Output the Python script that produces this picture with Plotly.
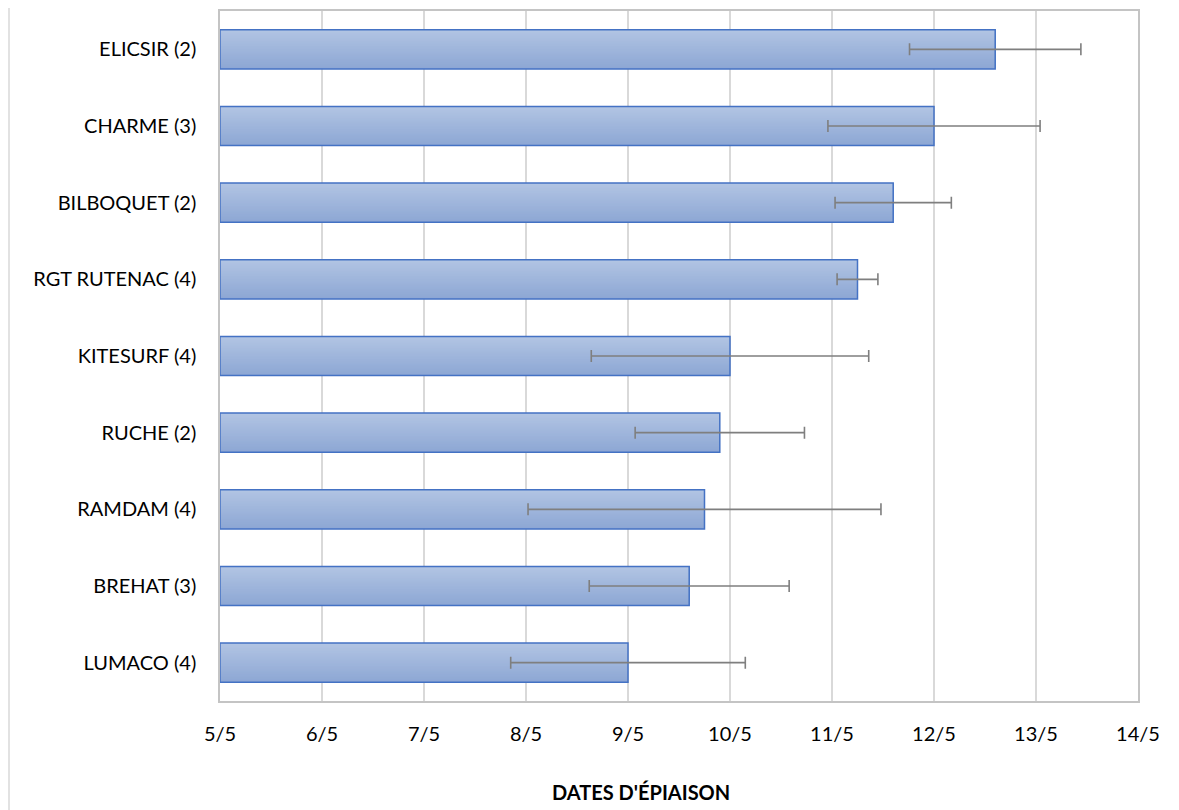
import plotly.graph_objects as go

# Data (day of May)
categories = ["LUMACO (4)", "BREHAT (3)", "RAMDAM (4)", "RUCHE (2)", "KITESURF (4)",
              "RGT RUTENAC (4)", "BILBOQUET (2)", "CHARME (3)", "ELICSIR (2)"]
mean_day = [9.0, 9.6, 9.75, 9.9, 10.0, 11.25, 11.6, 12.0, 12.6]
err_day = [1.15, 0.98, 1.73, 0.83, 1.36, 0.20, 0.57, 1.04, 0.84]
tick_vals = [5, 6, 7, 8, 9, 10, 11, 12, 13, 14]
tick_text = ["5/5", "6/5", "7/5", "8/5", "9/5", "10/5", "11/5", "12/5", "13/5", "14/5"]
axis_start = 5

# page has an 8px body margin: figure sized to fit the window
OFF = 8
W, H = 1179 - OFF, 810 - OFF
ML = 220 - OFF
MT = 11 - OFF
MR = W - (1138 - OFF)
MB = H - (701 - OFF)
PW = W - ML - MR
PH = H - MT - MB

FONT = "Lato, Open Sans, sans-serif"
FS = 20

fig = go.Figure()

# gradient fill via overlapping strips (each reaches the top of the bar)
bar_w = 0.51
n_strips = 24
top_rgb = (177, 196, 227)
bot_rgb = (141, 167, 212)
strip = bar_w / n_strips
lengths = [v - axis_start for v in mean_day]
for i in range(n_strips):
    t = i / (n_strips - 1)  # 0 bottom -> 1 top
    c = tuple(round(b + (a - b) * t) for a, b in zip(top_rgb, bot_rgb))
    fig.add_trace(go.Bar(
        y=categories, x=lengths, base=axis_start, orientation="h",
        width=bar_w - i * strip, offset=-bar_w / 2 + i * strip,
        marker=dict(color="rgb(%d,%d,%d)" % c, line=dict(width=0)),
        showlegend=False, hoverinfo="skip",
    ))

# outline
fig.add_trace(go.Bar(
    y=categories, x=lengths, base=axis_start, orientation="h",
    width=bar_w, offset=-bar_w / 2,
    marker=dict(color="rgba(0,0,0,0)", line=dict(color="#4472C4", width=1.5)),
    showlegend=False,
))

# error bars
fig.add_trace(go.Scatter(
    y=categories, x=mean_day, mode="markers",
    marker=dict(size=1, color="rgba(0,0,0,0)"),
    error_x=dict(type="data", array=err_day, symmetric=True,
                 color="#7F7F7F", thickness=1.6, width=6),
    showlegend=False,
))

fig.update_layout(
    width=W, height=H,
    margin=dict(l=ML, r=MR, t=MT, b=MB, autoexpand=False),
    paper_bgcolor="white", plot_bgcolor="white",
    barmode="overlay",
    font=dict(family=FONT, size=FS, color="#000000"),
    xaxis=dict(
        range=[5, 14], tickvals=tick_vals, ticktext=tick_text,
        showgrid=True, gridcolor="#D9D9D9", gridwidth=1.5,
        showline=True, linecolor="#C4C4C4", linewidth=1.5, mirror=True,
        ticks="", ticklabelstandoff=14, zeroline=False,
        tickfont=dict(family=FONT, size=FS, color="#000000"),
    ),
    yaxis=dict(
        categoryorder="array", categoryarray=categories,
        range=[-0.5, len(categories) - 0.5],
        showgrid=False,
        showline=True, linecolor="#C4C4C4", linewidth=1.5, mirror=True,
        ticks="", ticklabelstandoff=18,
        tickfont=dict(family=FONT, size=FS, color="#000000"),
    ),
    annotations=[dict(
        text="<b>DATES D'ÉPIAISON</b>", xref="paper", yref="paper",
        x=(640.5 - 220) / PW, y=(701 - 792) / PH, xanchor="center", yanchor="middle",
        showarrow=False, font=dict(family=FONT, size=FS, color="#000000"),
    )],
    shapes=[dict(
        type="line", xref="paper", yref="paper",
        x0=(9 - 220) / PW, x1=(9 - 220) / PW, y0=-0.3, y1=1.2,
        line=dict(color="#D9D9D9", width=1.5),
    )],
)

fig.write_html("out.html")
